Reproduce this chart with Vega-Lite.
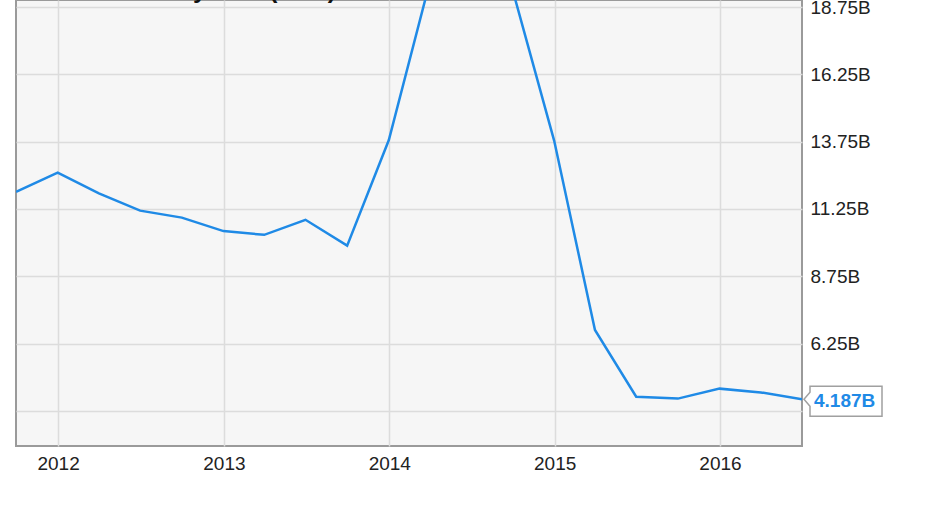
{
  "$schema": "https://vega.github.io/schema/vega-lite/v6.json",
  "width": 786,
  "height": 446,
  "autosize": {"type": "none"},
  "padding": {"left": 16, "top": 0, "right": 129, "bottom": 60},
  "background": "#ffffff",
  "title": {
    "text": "IBM Stock Buyback (TTM)",
    "anchor": "start",
    "frame": "group",
    "orient": "top",
    "offset": -5,
    "dx": 19,
    "font": "Liberation Sans",
    "fontSize": 24.5,
    "fontWeight": "bold",
    "color": "#111111"
  },
  "config": {
    "view": {"fill": "#f6f6f6", "stroke": "#9a9a9a", "strokeWidth": 2},
    "font": "Liberation Sans"
  },
  "data": {
    "values": [
      {"date": "2011-09-30", "value": 11.89},
      {"date": "2011-12-31", "value": 12.6},
      {"date": "2012-03-31", "value": 11.83},
      {"date": "2012-06-30", "value": 11.19},
      {"date": "2012-09-30", "value": 10.93},
      {"date": "2012-12-31", "value": 10.43},
      {"date": "2013-03-31", "value": 10.29},
      {"date": "2013-06-30", "value": 10.85},
      {"date": "2013-09-30", "value": 9.89},
      {"date": "2013-12-31", "value": 13.81},
      {"date": "2014-03-31", "value": 19.65},
      {"date": "2014-06-30", "value": 20.3},
      {"date": "2014-09-30", "value": 19.4},
      {"date": "2014-12-31", "value": 13.78},
      {"date": "2015-03-31", "value": 6.76},
      {"date": "2015-06-30", "value": 4.28},
      {"date": "2015-09-30", "value": 4.21},
      {"date": "2015-12-31", "value": 4.58},
      {"date": "2016-03-31", "value": 4.44},
      {"date": "2016-06-30", "value": 4.187}
    ]
  },
  "encoding": {
    "x": {
      "field": "date",
      "type": "temporal",
      "scale": {"domain": ["2011-09-30", "2016-06-30"]},
      "axis": {
        "title": null,
        "values": [
          {"year": 2012, "month": 1, "date": 1},
          {"year": 2013, "month": 1, "date": 1},
          {"year": 2014, "month": 1, "date": 1},
          {"year": 2015, "month": 1, "date": 1},
          {"year": 2016, "month": 1, "date": 1}
        ],
        "format": "%Y",
        "domain": false,
        "ticks": false,
        "grid": true,
        "gridColor": "#dcdcdc",
        "gridWidth": 1.5,
        "labelFont": "Liberation Sans",
        "labelFontSize": 19,
        "labelColor": "#222222",
        "labelPadding": 8
      }
    },
    "y": {
      "field": "value",
      "type": "quantitative",
      "scale": {"domain": [2.45, 19.01], "nice": false, "zero": false},
      "axis": {
        "title": null,
        "orient": "right",
        "values": [3.75, 6.25, 8.75, 11.25, 13.75, 16.25, 18.75],
        "labelExpr": "format(datum.value, '.2f') + 'B'",
        "domain": false,
        "ticks": false,
        "grid": true,
        "gridColor": "#dcdcdc",
        "gridWidth": 1.5,
        "labelFont": "Liberation Sans",
        "labelFontSize": 19,
        "labelColor": "#222222",
        "labelPadding": 8,
        "labelAlign": "left"
      }
    }
  },
  "layer": [
    {
      "mark": {"type": "line", "clip": true, "color": "#1f8ae6", "strokeWidth": 2.5}
    },
    {
      "transform": [{"filter": "datum.value == 4.187"}],
      "mark": {
        "type": "point",
        "clip": false,
        "filled": true,
        "opacity": 1,
        "fill": "#ffffff",
        "stroke": "#a0a0a0",
        "strokeWidth": 1.5,
        "size": 25600,
        "shape": "M0.025,0 L0.1,-0.0875 L0.1,-0.1625 L1,-0.1625 L1,0.2125 L0.1,0.2125 L0.1,0.0875 Z"
      }
    },
    {
      "transform": [
        {"filter": "datum.value == 4.187"},
        {"calculate": "format(datum.value, '.3f') + 'B'", "as": "label"}
      ],
      "mark": {
        "type": "text",
        "clip": false,
        "align": "left",
        "baseline": "middle",
        "dx": 12,
        "dy": 2,
        "font": "Liberation Sans",
        "fontSize": 19,
        "fontWeight": "bold",
        "color": "#1f8ae6"
      },
      "encoding": {"text": {"field": "label"}}
    }
  ]
}
